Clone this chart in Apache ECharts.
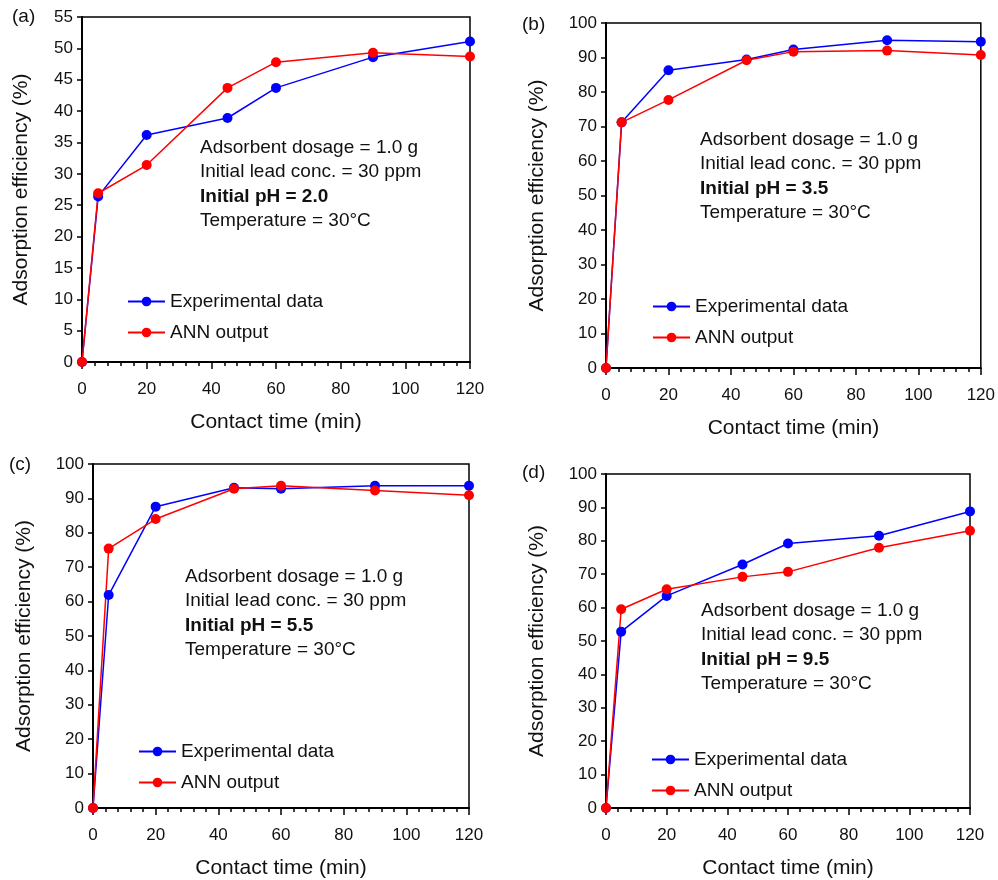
<!DOCTYPE html>
<html>
<head>
<meta charset="utf-8">
<script src="https://cdn.jsdelivr.net/npm/echarts@6/dist/echarts.min.js"></script>
<style>
  html, body { margin: 0; padding: 0; background: #fff }
  #chart { width: 998px; height: 880px }
</style>
</head>
<body>
<div id="chart"></div>
<script>
// contact time (min), shared by all panels
const times = [0, 5, 20, 45, 60, 90, 120]

// adsorption efficiency (%)
const expA = [0, 26.4, 36.2, 38.9, 43.7, 48.6, 51.1]
const annA = [0, 26.9, 31.4, 43.7, 47.8, 49.3, 48.7]
const expB = [0, 71.2, 86.3, 89.4, 92.3, 95.0, 94.6]
const annB = [0, 71.2, 77.7, 89.2, 91.7, 92.0, 90.7]
const expC = [0, 61.9, 87.6, 93.1, 92.8, 93.7, 93.7]
const annC = [0, 75.4, 84.0, 92.8, 93.7, 92.3, 90.9]
const expD = [0, 52.8, 63.5, 72.9, 79.2, 81.5, 88.8]
const annD = [0, 59.5, 65.5, 69.2, 70.7, 77.9, 83.0]

const panelLabels = ['(a)', '(b)', '(c)', '(d)']
const phValues = ['2.0', '3.5', '5.5', '9.5']
const yMax = [55, 100, 100, 100]
const yStep = [5, 10, 10, 10]
const seriesNames = ['Experimental data', 'ANN output']

const FONT = 'Liberation Sans, Arial, sans-serif'
const INK = '#111'

// layout of each panel (pixels)
const grids = [
  { left: 82, top: 17, width: 388, height: 345 },
  { left: 606, top: 23, width: 376, height: 345 },
  { left: 93, top: 464, width: 376, height: 344 },
  { left: 606, top: 474, width: 364, height: 336 }
]
const notePos = [[200, 148], [700, 140], [185, 577], [701, 611]]
const legendPos = [[122, 287], [647, 292], [133, 737], [646, 745]]
const labelPos = [[25, 17], [535, 25], [22, 465], [535, 473]]

const data = [[expA, annA], [expB, annB], [expC, annC], [expD, annD]]

const chart = echarts.init(document.getElementById('chart'))

const xAxes = grids.map((g, i) => ({
  gridIndex: i,
  type: 'value',
  min: 0, max: 120, interval: 20,
  name: 'Contact time (min)',
  nameLocation: 'middle',
  nameGap: 50,
  nameTextStyle: { fontFamily: FONT, fontSize: 21, color: INK },
  axisLine: { lineStyle: { color: '#000', width: 2 } },
  axisTick: { inside: false, length: 7, lineStyle: { color: '#000', width: 1.5 } },
  minorTick: { show: true, splitNumber: 5, length: 4, lineStyle: { color: '#000', width: 1.5 } },
  axisLabel: { fontFamily: FONT, fontSize: 17, color: INK, margin: 19 },
  splitLine: { show: false }
}))

const yAxes = grids.map((g, i) => ({
  gridIndex: i,
  type: 'value',
  min: 0, max: yMax[i], interval: yStep[i],
  name: 'Adsorption efficiency (%)',
  nameLocation: 'middle',
  nameGap: i === 0 ? 50 : 58,
  nameTextStyle: { fontFamily: FONT, fontSize: 21, color: INK },
  axisLine: { lineStyle: { color: '#000', width: 2 } },
  axisTick: { inside: false, length: 5, lineStyle: { color: '#000', width: 1.5 } },
  axisLabel: { fontFamily: FONT, fontSize: 17, color: INK, margin: 9 },
  splitLine: { show: false }
}))

const colors = ['#0000ff', '#ff0000']
const series = []
data.forEach((pair, i) => {
  pair.forEach((vals, k) => {
    series.push({
      name: seriesNames[k],
      type: 'line',
      xAxisIndex: i,
      yAxisIndex: i,
      data: times.map((t, j) => [t, vals[j]]),
      symbol: 'circle',
      symbolSize: 10,
      color: colors[k],
      lineStyle: { color: colors[k], width: 1.5 },
      itemStyle: { color: colors[k] },
      animation: false
    })
  })
})

const legends = legendPos.map(p => ({
  data: seriesNames,
  orient: 'vertical',
  left: p[0], top: p[1],
  itemWidth: 37, itemHeight: 12, itemGap: 12,
  textStyle: { fontFamily: FONT, fontSize: 19, color: INK },
  selectedMode: false
}))

const graphics = []
notePos.forEach((p, i) => {
  const lines = ['Adsorbent dosage = 1.0 g', 'Initial lead conc. = 30 ppm', 'Initial pH = ' + phValues[i], 'Temperature = 30\u00b0C']
  lines.forEach((txt, k) => {
    graphics.push({
      type: 'text', left: p[0], top: p[1] + k * 24.5 - 10,
      style: { text: txt, fill: INK, font: (k === 2 ? 'bold ' : '') + '19px ' + FONT }
    })
  })
})
labelPos.forEach((p, i) => {
  graphics.push({
    type: 'text', left: p[0] - 13, top: p[1] - 10,
    style: { text: panelLabels[i], fill: INK, font: '19px ' + FONT }
  })
})

chart.setOption({
  animation: false,
  grid: grids.map(g => ({ ...g, show: true, borderColor: '#000', borderWidth: 1.5, backgroundColor: 'transparent' })),
  xAxis: xAxes,
  yAxis: yAxes,
  legend: legends,
  series: series,
  graphic: graphics
})
</script>
</body>
</html>
